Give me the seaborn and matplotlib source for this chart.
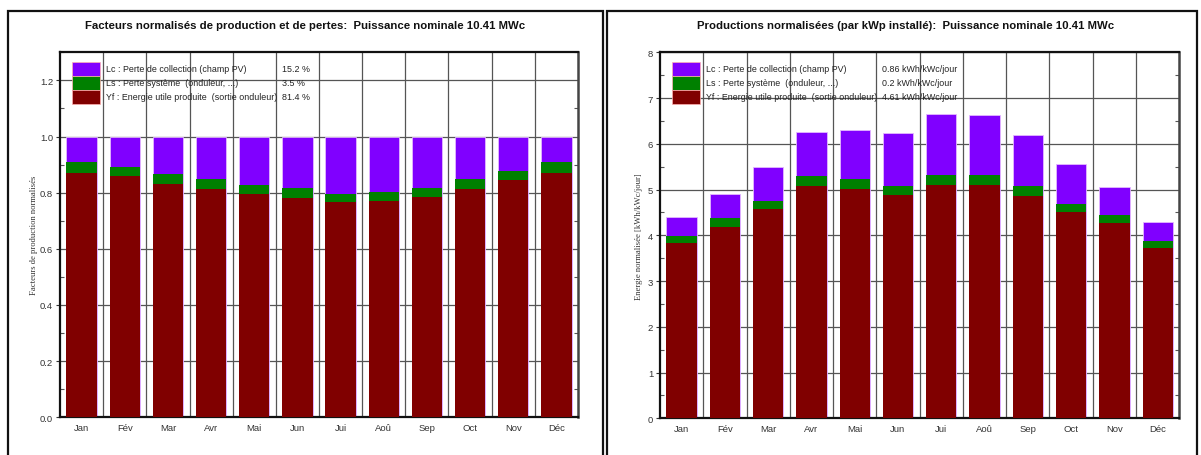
import numpy as np
import pandas as pd
import matplotlib
matplotlib.use("Agg")
import matplotlib.pyplot as plt
import matplotlib.patches as mpatches
from matplotlib.ticker import MultipleLocator, FixedLocator
import seaborn as sns

# ---------------- data ----------------
months = ["Jan", "Fév", "Mar", "Avr", "Mai", "Jun", "Jui", "Aoû", "Sep", "Oct", "Nov", "Déc"]

# normalised factors (left chart)
yf_factor = [0.871, 0.859, 0.832, 0.812, 0.794, 0.782, 0.767, 0.770, 0.784, 0.814, 0.844, 0.871]
ls_factor = [0.038, 0.034, 0.035, 0.035, 0.034, 0.033, 0.030, 0.032, 0.034, 0.033, 0.035, 0.038]
lc_factor = [0.091, 0.107, 0.133, 0.153, 0.172, 0.185, 0.203, 0.198, 0.182, 0.153, 0.121, 0.091]

# normalised productions kWh/kWc/jour (right chart)
yf_prod = [3.83, 4.19, 4.57, 5.08, 5.02, 4.88, 5.09, 5.09, 4.86, 4.50, 4.26, 3.72]
ls_prod = [0.16, 0.18, 0.19, 0.22, 0.21, 0.20, 0.22, 0.22, 0.21, 0.19, 0.19, 0.16]
lc_prod = [0.42, 0.53, 0.73, 0.96, 1.08, 1.15, 1.34, 1.32, 1.13, 0.86, 0.61, 0.40]

legend_labels = ["Lc : Perte de collection (champ PV)",
                 "Ls : Perte système  (onduleur, ...)",
                 "Yf : Energie utile produite  (sortie onduleur)"]
legend_values_left = ["15.2 %", "3.5 %", "81.4 %"]
legend_values_right = ["0.86 kWh/kWc/jour", "0.2 kWh/kWc/jour", "4.61 kWh/kWc/jour"]

title_left = "Facteurs normalisés de production et de pertes:  Puissance nominale 10.41 MWc"
title_right = "Productions normalisées (par kWp installé):  Puissance nominale 10.41 MWc"
ylabel_left = "Facteurs de production normalisés"
ylabel_right = "Energie normalisée [kWh/kWc/jour]"

C_LC = "#8000ff"
C_LS = "#008000"
C_YF = "#800000"

sns.set_theme(style="white")
plt.rcParams["font.family"] = ["Liberation Sans", "DejaVu Sans"]

W, H = 1201, 456
fig = plt.figure(figsize=(W / 100, H / 100), dpi=100)


def px_axes(x0, x1, ytop, ybot):
    return fig.add_axes([x0 / W, 1 - ybot / H, (x1 - x0) / W, (ybot - ytop) / H])


def draw_panel(ax, yf, ls, lc, ymax, major, minor, fmt, values, ylabel, lpad):
    df = pd.DataFrame({"mois": months, "yf": yf, "ls": ls, "lc": lc})
    df["yf_ls"] = df["yf"] + df["ls"]
    df["total"] = df["yf_ls"] + df["lc"]
    edge = "#e4b8ff"
    sns.barplot(data=df, x="mois", y="total", order=months, color=C_LC, saturation=1,
                width=0.7, edgecolor=edge, linewidth=0.6, ax=ax, zorder=2)
    sns.barplot(data=df, x="mois", y="yf_ls", order=months, color=C_LS, saturation=1,
                width=0.7, edgecolor="none", linewidth=0, ax=ax, zorder=3)
    sns.barplot(data=df, x="mois", y="yf", order=months, color=C_YF, saturation=1,
                width=0.7, edgecolor="none", linewidth=0, ax=ax, zorder=4)
    ax.set_xlim(-0.5, 11.5)
    ax.set_ylim(0, ymax)
    ax.set_xlabel("")
    ax.set_ylabel(ylabel, family=["Liberation Serif"], fontsize=6.2, color="#333333", labelpad=lpad)
    ax.yaxis.set_major_locator(MultipleLocator(major))
    ax.yaxis.set_minor_locator(MultipleLocator(minor))
    ax.yaxis.set_major_formatter(matplotlib.ticker.FormatStrFormatter(fmt))
    ax.xaxis.set_minor_locator(FixedLocator(np.arange(0.5, 11.5, 1.0)))
    ax.set_axisbelow(True)
    ax.grid(True, which="major", axis="y", color="#555555", linewidth=0.9, zorder=0)
    ax.grid(True, which="minor", axis="x", color="#555555", linewidth=0.9, zorder=0)
    ax.tick_params(axis="y", which="major", direction="out", length=3, width=0.8,
                   labelsize=6.8, colors="#333333", left=True, right=False, pad=2)
    ax.tick_params(axis="y", which="minor", direction="in", length=3, width=0.8,
                   left=True, right=True, color="#555555")
    ax.tick_params(axis="x", which="major", length=0, labelsize=6.8, colors="#333333", pad=4)
    ax.tick_params(axis="x", which="minor", length=0)
    for side in ["left", "bottom", "top"]:
        ax.spines[side].set_visible(True)
        ax.spines[side].set_color("#111111")
        ax.spines[side].set_linewidth(1.6)
    ax.spines["right"].set_visible(True)
    ax.spines["right"].set_color("#444444")
    ax.spines["right"].set_linewidth(1.8)

    # legend (manual, no frame)
    cols = [C_LC, C_LS, C_YF]
    trans = ax.transAxes
    aw = ax.get_position().width * W
    ah = ax.get_position().height * H
    px = lambda v: v / aw
    py = lambda v: v / ah
    for i, (c, lab, val) in enumerate(zip(cols, legend_labels, values)):
        ytop = 1 - py(9.5 + 14 * i)
        ax.add_patch(mpatches.Rectangle((px(11.5), ytop - py(14)), px(28.5), py(14),
                                        transform=trans, facecolor=c, edgecolor="#ffb0b0",
                                        linewidth=0.5, zorder=6, clip_on=False))
        ax.text(px(46.5), ytop - py(7), lab, transform=trans, fontsize=6.4, va="center",
                ha="left", color="#222222", zorder=7)
        ax.text(px(222), ytop - py(7), val, transform=trans, fontsize=6.4, va="center",
                ha="left", color="#222222", zorder=7)


ax1 = px_axes(60, 578, 53.3, 418.3)
draw_panel(ax1, yf_factor, ls_factor, lc_factor, 1.3, 0.2, 0.1, "%.1f",
           legend_values_left, ylabel_left, 1.5)
ax2 = px_axes(660, 1179.3, 53.3, 419.3)
draw_panel(ax2, yf_prod, ls_prod, lc_prod, 8, 1, 0.5, "%d",
           legend_values_right, ylabel_right, 3.5)

# titles
fig.text(305 / W, 1 - 26 / H, title_left, ha="center", va="center", fontsize=8.2,
         fontweight="bold", color="#111111")
fig.text(906 / W, 1 - 26 / H, title_right, ha="center", va="center", fontsize=8.2,
         fontweight="bold", color="#111111")

# outer frames
for x0, x1 in [(8, 603), (607, 1197)]:
    fig.patches.append(mpatches.Rectangle((x0 / W, -0.05), (x1 - x0) / W, 1 - 12 / H + 0.05,
                                          transform=fig.transFigure, fill=False,
                                          edgecolor="#111111", linewidth=1.6))

fig.savefig("out.png", dpi=100, facecolor="white")
